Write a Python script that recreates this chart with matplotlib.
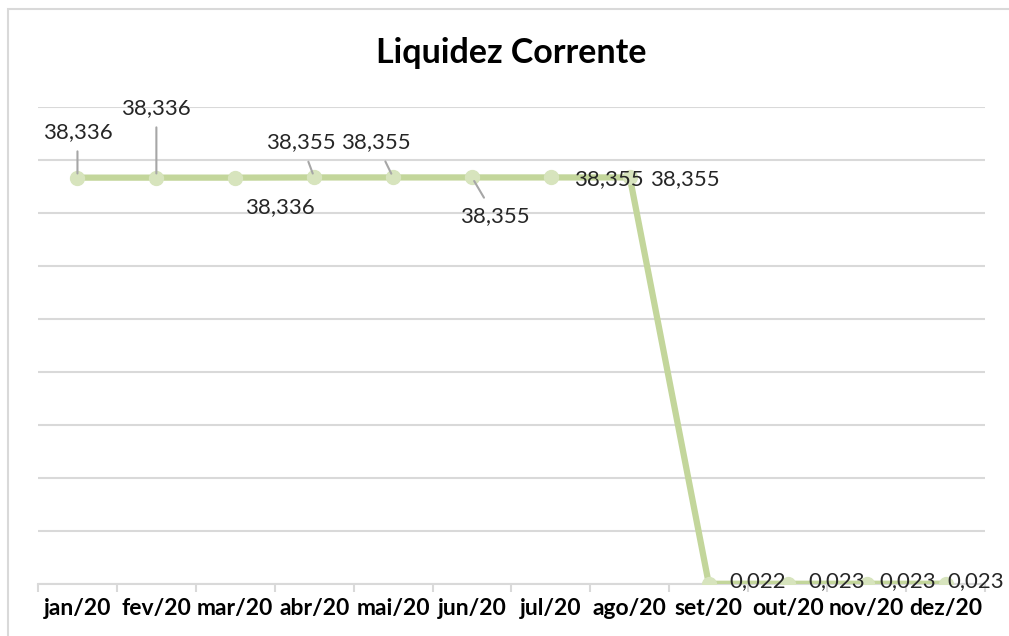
import matplotlib.pyplot as plt
from matplotlib.patches import Rectangle

# data
meses = ["jan/20", "fev/20", "mar/20", "abr/20", "mai/20", "jun/20",
         "jul/20", "ago/20", "set/20", "out/20", "nov/20", "dez/20"]
valores = [38.336, 38.336, 38.336, 38.355, 38.355, 38.355,
           38.355, 38.355, 0.022, 0.023, 0.023, 0.023]
rotulos = ["38,336", "38,336", "38,336", "38,355", "38,355", "38,355",
           "38,355", "38,355", "0,022", "0,023", "0,023", "0,023"]

# label offsets in pixels (dx, dy) and whether a leader line is drawn
offsets = [(0, 46), (0, 70), (45, -29), (-13, 35), (-17, 35), (23, -39),
           (58, -2), (55, -2), (49, 3), (49, 3), (41, 3), (30, 3)]
leaders = [True, True, False, True, True, True,
           False, False, False, False, False, False]

plt.rcParams['font.family'] = ['Lato', 'DejaVu Sans']

fig = plt.figure(figsize=(10.09, 6.36), dpi=100)
ax = fig.add_axes([38 / 1009, 52 / 636, 947 / 1009, 477 / 636])

# outer chart border
fig.patches.append(Rectangle((8 / 1009, -0.1), 1.2, (636 - 9) / 636 + 0.1,
                             transform=fig.transFigure, fill=False,
                             edgecolor='#d9d9d9', lw=1.5))

x = list(range(len(meses)))
ax.plot(x, valores, color='#c3d69b', lw=4.5, marker='o', markersize=10,
        markerfacecolor='#d7e4bd', markeredgecolor='#d7e4bd', zorder=3)

for i in x:
    dx, dy = offsets[i]
    if leaders[i]:
        ax.annotate(rotulos[i], (i, valores[i]), xytext=(dx, dy),
                    textcoords='offset pixels', ha='center', va='center',
                    fontsize=16, color='#262626', zorder=4,
                    arrowprops=dict(arrowstyle='-', color='#a6a6a6', lw=1.5,
                                    shrinkA=5, shrinkB=3))
    else:
        ax.annotate(rotulos[i], (i, valores[i]), xytext=(dx, dy),
                    textcoords='offset pixels', ha='center', va='center',
                    fontsize=16, color='#262626', zorder=4)

ax.set_xlim(-0.5, len(meses) - 0.5)
ax.set_ylim(0, 45)
ax.set_yticks(range(0, 46, 5))
ax.yaxis.grid(True, color='#d9d9d9', lw=1.5)
ax.set_axisbelow(True)
ax.tick_params(axis='y', left=False, labelleft=False)

ax.set_xticks(x)
ax.set_xticklabels(meses, fontsize=16.5, fontweight='bold', color='#000000')
ax.set_xticks([i - 0.5 for i in range(len(meses) + 1)], minor=True)
ax.tick_params(axis='x', which='major', length=0, pad=10)
ax.tick_params(axis='x', which='minor', length=6, color='#d9d9d9', width=1.5)

for side in ['top', 'right', 'left']:
    ax.spines[side].set_visible(False)
ax.spines['bottom'].set_color('#d9d9d9')
ax.spines['bottom'].set_linewidth(1.5)

fig.text(511 / 1009, 1 - 53 / 636, "Liquidez Corrente", ha='center',
         va='center', fontsize=24.5, fontweight='bold')

fig.savefig("out.png", dpi=100)
